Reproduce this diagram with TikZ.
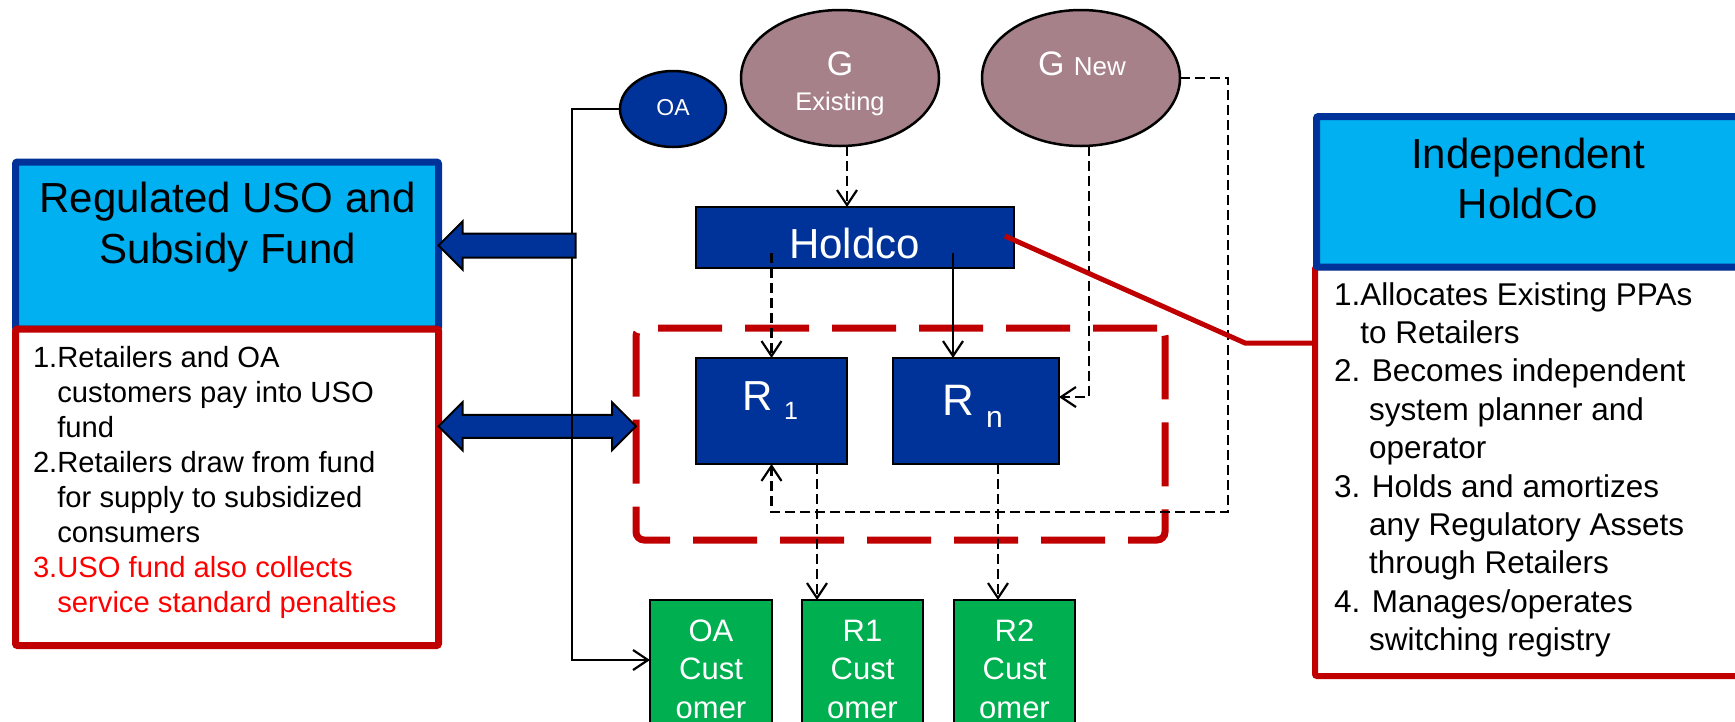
\documentclass[tikz,border=0pt]{standalone}
\usepackage{fontspec}
\setmainfont{Liberation Sans}
\usetikzlibrary{shapes.geometric,arrows.meta,calc}

\definecolor{navy}{RGB}{0,51,153}
\definecolor{skyfill}{RGB}{0,176,240}
\definecolor{darkred}{RGB}{192,0,0}
\definecolor{leaf}{RGB}{0,176,80}
\definecolor{mauve}{RGB}{167,129,138}
\definecolor{alertred}{RGB}{255,0,0}

% font size / baseline skip in one go
\newcommand\fs[2]{\fontsize{#1}{#2}\selectfont}
% a centred line of zero width, for stacked titles
\newcommand\ctrline[1]{\hbox to 0pt{\hss #1\hss}}

\begin{document}
\begin{tikzpicture}[x=1pt,y=-1pt,
  every node/.style={inner sep=0pt, outer sep=0pt},
  headpanel/.style={draw=navy, fill=skyfill, line width=7pt, rounded corners=2pt},
  listpanel/.style={draw=darkred, fill=white, line width=7pt, rounded corners=2pt},
  retailgroup/.style={draw=darkred, line width=7pt, dash pattern=on 64pt off 23pt, rounded corners=8pt},
  gen/.style={ellipse, draw=black, fill=mauve, line width=2.5pt},
  agent/.style={rectangle, draw=black, fill=navy, line width=2pt},
  customer/.style={rectangle, draw=black, fill=leaf, line width=2pt},
  bigarrow/.style={draw=black, fill=navy, line width=2pt, line join=miter},
  link/.style={draw=black, line width=2.2pt},
  dlink/.style={link, dash pattern=on 10pt off 5pt},
  tip/.style={-{Straight Barb[length=15pt,width=20pt]}},
  whitetext/.style={text=white},
]
\clip (0,0) rectangle (1735,721);

% ---- left panel: USO and subsidy fund
\node[headpanel, minimum width=423pt, minimum height=167pt] (uso) at (227,245.5) {};
\node[listpanel, minimum width=423pt, minimum height=316.5pt] (usolist) at (227,487.25) {};

% ---- right panel: independent HoldCo
\node[listpanel, line width=6pt, minimum width=425pt, minimum height=409pt] (indeplist) at (1527.5,471.5) {};
\node[headpanel, minimum width=423.5pt, minimum height=150.5pt] (indep) at (1528.25,191.75) {};

% ---- retailer group
\node[retailgroup, minimum width=529pt, minimum height=212pt] (retail) at (900.5,434) {};

% ---- generators, holding company, retailers, customers
\node[ellipse, draw=black, fill=navy, line width=2.5pt, minimum width=106pt, minimum height=76pt] (oa) at (673,109) {};
\node[gen, minimum width=198pt, minimum height=136pt] (gex) at (840,78) {};
\node[gen, minimum width=198pt, minimum height=136pt] (gnew) at (1081,78) {};
\node[agent, minimum width=318pt, minimum height=61pt] (holdco) at (855,237.5) {};
\node[agent, minimum width=151pt, minimum height=106pt] (r1) at (771.5,411) {};
\node[agent, minimum width=166pt, minimum height=106pt] (rn) at (976,411) {};
\node[customer, minimum width=122pt, minimum height=180pt] (oacust) at (711,690) {};
\node[customer, minimum width=121pt, minimum height=180pt] (r1cust) at (862.5,690) {};
\node[customer, minimum width=121pt, minimum height=180pt] (r2cust) at (1014.5,690) {};

% ---- texts
\node[anchor=base, font=\fs{42}{51}] (usotitle) at (227.5,212)
  {\vtop{\ctrline{Regulated USO and}\ctrline{Subsidy Fund}}};
\node[anchor=base west, font=\fs{29.2}{35}] (usotext) at (33,367)
  {\vtop{\hbox{1.Retailers and OA}
         \hbox{\hphantom{1.}customers pay into USO}
         \hbox{\hphantom{1.}fund}
         \hbox{2.Retailers draw from fund}
         \hbox{\hphantom{2.}for supply to subsidized}
         \hbox{\hphantom{2.}consumers}
         \hbox{\color{alertred}3.USO fund also collects}
         \hbox{\color{alertred}\hphantom{3.}service standard penalties}}};

\node[anchor=base, font=\fs{42}{50}] (indeptitle) at (1528,168)
  {\vtop{\ctrline{Independent}\ctrline{HoldCo}}};
\node[anchor=base west, font=\fs{31.5}{38.4}] (indeptext) at (1334,305)
  {\vtop{\hbox{1.Allocates Existing PPAs}
         \hbox{\hphantom{1.}to Retailers}
         \hbox{2. Becomes independent}
         \hbox{\hphantom{2.\ }system planner and}
         \hbox{\hphantom{2.\ }operator}
         \hbox{3. Holds and amortizes}
         \hbox{\hphantom{3.\ }any Regulatory Assets}
         \hbox{\hphantom{3.\ }through Retailers}
         \hbox{4. Manages/operates}
         \hbox{\hphantom{4.\ }switching registry}}};

\node[whitetext, anchor=base, font=\fs{23}{23}] (oatext) at (673,115) {OA};
\node[whitetext, anchor=base, font=\fs{34}{35}] (gextext) at (840,75)
  {\vtop{\ctrline{G}\ctrline{\fs{25.5}{35}Existing}}};
\node[whitetext, anchor=base, font=\fs{34}{34}] (gnewtext) at (1082,75) {G {\fs{26}{26}New}};
\node[whitetext, anchor=base, font=\fs{42}{42}] (holdcotext) at (854.5,258) {Holdco};
\node[whitetext, anchor=base west, font=\fs{42}{42}] (r1text) at (742,410)
  {R \raisebox{-9pt}{\fs{25}{25}1}};
\node[whitetext, anchor=base west, font=\fs{44}{44}] (rntext) at (942,415)
  {R \raisebox{-12pt}{\fs{30}{30}n}};
\node[whitetext, anchor=base, font=\fs{31}{38.5}] (oacusttext) at (711,641)
  {\vtop{\ctrline{OA}\ctrline{Cust}\ctrline{omer}}};
\node[whitetext, anchor=base, font=\fs{31}{38.5}] (r1custtext) at (862.5,641)
  {\vtop{\ctrline{R1}\ctrline{Cust}\ctrline{omer}}};
\node[whitetext, anchor=base, font=\fs{31}{38.5}] (r2custtext) at (1014.5,641)
  {\vtop{\ctrline{R2}\ctrline{Cust}\ctrline{omer}}};

% ---- block arrows to the fund
\coordinate (dbl) at ($(usolist.east)+(0,-61)$);
\filldraw[bigarrow] (dbl) -- ++(24,-24) -- ++(0,12.5) -- ++(149.5,0) -- ++(0,-12.5)
  -- ++(24,24) -- ++(-24,24) -- ++(0,-12.5) -- ++(-149.5,0) -- ++(0,12.5) -- cycle;

% OA supply line to its customers
\coordinate (oabend) at (572,0);
\coordinate (oain) at ($(oacust.west)+(0,-30)$);
\draw[link, tip] (oa.west) -| (oabend |- oain) -- (oain);

\filldraw[bigarrow] (uso.east) -- ++(24,-24) -- ++(0,12) -- ++(113,0) -- ++(0,24)
  -- ++(-113,0) -- ++(0,12) -- cycle;

% ---- contract and supply connectors
\draw[dlink, tip] ($(gex.south)+(7,0)$) -- ($(holdco.north)+(-8,0)$);
\draw[dlink, tip] ($(holdco.south -| r1.north)+(0,-15)$) -- (r1.north);
\draw[link, tip] ($(holdco.south -| rn.north)+(-23,-15)$) -- ($(rn.north)+(-23,0)$);
\draw[dlink, tip] ($(gnew.south)+(8,0)$) |- ($(rn.east)+(0,-14)$);
\coordinate (loop) at (1228,512);
\draw[dlink, tip] (gnew.east) -| (loop) -| (r1.south);
\coordinate (r1out) at ($(r1.south)+(45.5,0)$);
\draw[dlink, tip] (r1out) -- (r1out |- r1cust.north);
\coordinate (rnout) at ($(rn.south)+(22,0)$);
\draw[dlink, tip] (rnout) -- (rnout |- r2cust.north);

% ---- Holdco call-out
\coordinate (knee) at (1245,343);
\draw[darkred, line width=5pt] ($(holdco.east)+(-9,-1.5)$) -- (knee) -- (indeplist.west |- knee);
\end{tikzpicture}
\end{document}
